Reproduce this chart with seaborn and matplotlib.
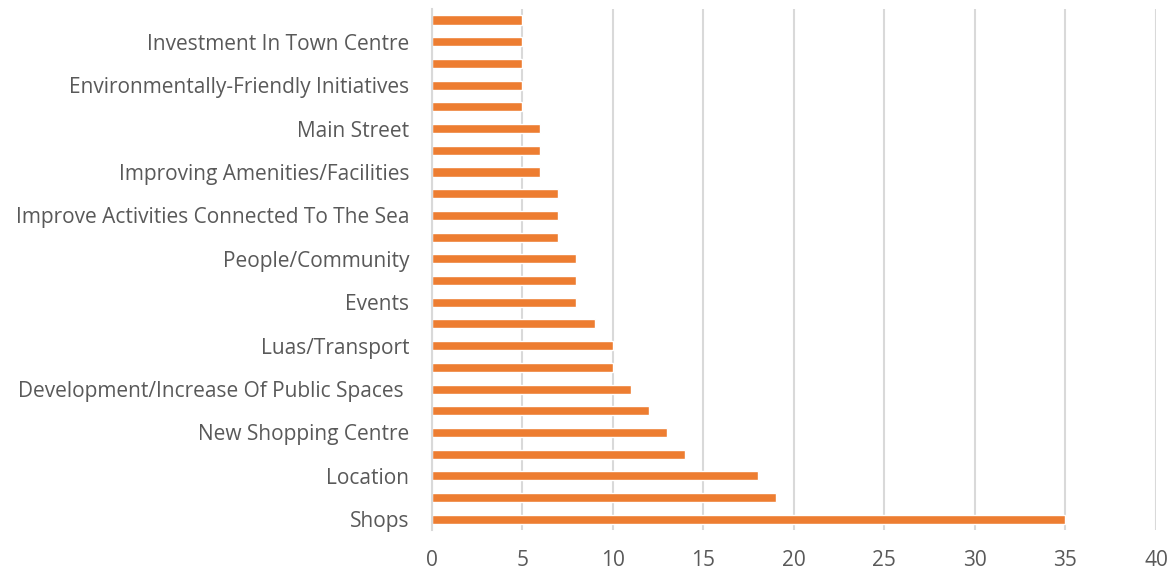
import matplotlib
matplotlib.use("Agg")
import matplotlib.pyplot as plt
import seaborn as sns
import pandas as pd

# bars listed top to bottom; only every other bar carries a label
labels = ["", "Investment In Town Centre", "", "Environmentally-Friendly Initiatives",
          "", "Main Street", "", "Improving Amenities/Facilities",
          "", "Improve Activities Connected To The Sea", "", "People/Community",
          "", "Events", "", "Luas/Transport",
          "", "Development/Increase Of Public Spaces ", "", "New Shopping Centre",
          "", "Location", "", "Shops"]
counts = [5, 5, 5, 5, 5, 6, 6, 6, 7, 7, 7, 8,
          8, 8, 9, 10, 10, 11, 12, 13, 14, 18, 19, 35]
x_ticks = [0, 5, 10, 15, 20, 25, 30, 35, 40]

df = pd.DataFrame({"item": [f"bar{i}" for i in range(len(counts))],
                   "count": counts})

sns.set_theme(style="white")
plt.rcParams["font.family"] = ["Open Sans", "DejaVu Sans"]

fig = plt.figure(figsize=(11.76, 5.75), dpi=100)
ax = fig.add_axes([0.367, 0.078, 0.616, 0.906])

sns.barplot(data=df, y="item", x="count", color="#ED7D31", width=0.42,
            saturation=1, ax=ax)

ax.set_xlim(0, 40)
ax.set_xticks(x_ticks)
ax.set_xticklabels([str(t) for t in x_ticks], fontsize=15, color="#595959")
ax.set_yticks(range(len(labels)))
ax.set_yticklabels(labels, fontsize=15, color="#595959")
ax.set_xlabel("")
ax.set_ylabel("")
ax.tick_params(axis="both", length=0)
ax.tick_params(axis="y", pad=16)
ax.tick_params(axis="x", pad=14)
ax.grid(axis="x", color="#d9d9d9", linewidth=1.5)
ax.set_axisbelow(True)
for s in ["top", "right", "bottom"]:
    ax.spines[s].set_visible(False)
ax.spines["left"].set_color("#d9d9d9")
ax.spines["left"].set_linewidth(1.5)

fig.savefig("out.png", dpi=100)
